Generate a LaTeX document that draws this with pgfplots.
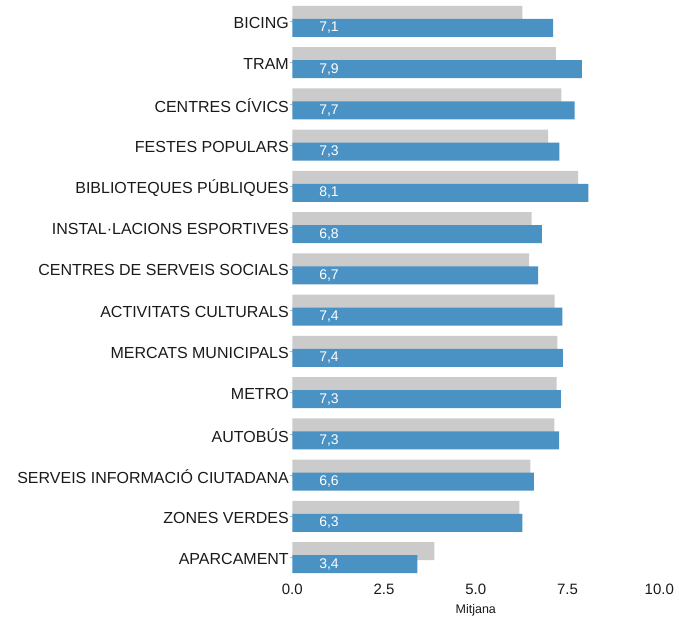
\documentclass[border=0pt]{standalone}
\usepackage{pgfplots}
\pgfplotsset{compat=1.18}
\usepackage{pgfplotstable}
\usepackage{fontspec}
\setmainfont{Liberation Sans}
\definecolor{barblue}{HTML}{4A92C4}
\definecolor{bargray}{HTML}{CBCBCB}
\definecolor{txt}{HTML}{1A1A1A}

\pgfplotstableread{
y gray blue lab
0  6.27 7.11 7,1
1  7.18 7.89 7,9
2  7.33 7.69 7,7
3  6.97 7.28 7,3
4  7.79 8.07 8,1
5  6.52 6.80 6,8
6  6.45 6.70 6,7
7  7.15 7.36 7,4
8  7.22 7.37 7,4
9  7.20 7.32 7,3
10 7.14 7.27 7,3
11 6.49 6.58 6,6
12 6.19 6.27 6,3
13 3.87 3.41 3,4
}\datatable

\begin{document}
\begin{tikzpicture}[x=1pt,y=1pt]
\useasboundingbox (-292.3,-38) rectangle (386.7,579);
\begin{axis}[
  at={(0,0)}, anchor=south west,
  scale only axis,
  width=367pt, height=579pt,
  xmin=0, xmax=10,
  ymin=-0.52, ymax=13.52,
  y dir=reverse,
  axis lines=left,
  axis line style={draw=none},
  xtick={0,2.5,5,7.5,10},
  xticklabels={0.0,2.5,5.0,7.5,10.0},
  ytick={0,...,13},
  yticklabels={BICING,TRAM,CENTRES CÍVICS,FESTES POPULARS,BIBLIOTEQUES PÚBLIQUES,INSTAL·LACIONS ESPORTIVES,CENTRES DE SERVEIS SOCIALS,ACTIVITATS CULTURALS,MERCATS MUNICIPALS,METRO,AUTOBÚS,SERVEIS INFORMACIÓ CIUTADANA,ZONES VERDES,APARCAMENT},
  /pgf/number format/assume math mode=true,
  xtick style={draw=none},
  ytick style={draw=gray!60, line width=0.5pt},
  tick align=outside,
  major tick length=2.5pt,
  yticklabel style={font=\fontsize{16}{18}\selectfont, text=txt, xshift=2.5pt, yshift=-1.5pt},
  xticklabel style={font=\fontsize{15}{18}\selectfont, text=txt, yshift=1pt},
  xlabel={Mitjana},
  xlabel style={font=\fontsize{12.5}{15}\selectfont, text=txt, yshift=-3pt},
  clip=false,
]
\addplot[xbar, bar width=18pt, bar shift=6.5pt, fill=bargray, draw=none] table[x=gray, y=y] {\datatable};
\addplot[xbar, bar width=18pt, bar shift=-6.5pt, fill=barblue, draw=none] table[x=blue, y=y] {\datatable};
\addplot[draw=none, mark=none, nodes near coords, point meta=explicit symbolic,
  nodes near coords style={text=white, anchor=center, yshift=-6.5pt, font=\fontsize{14}{16}\selectfont}]
  table[x expr=1.0, y=y, meta=lab] {\datatable};
\end{axis}
\end{tikzpicture}
\end{document}
